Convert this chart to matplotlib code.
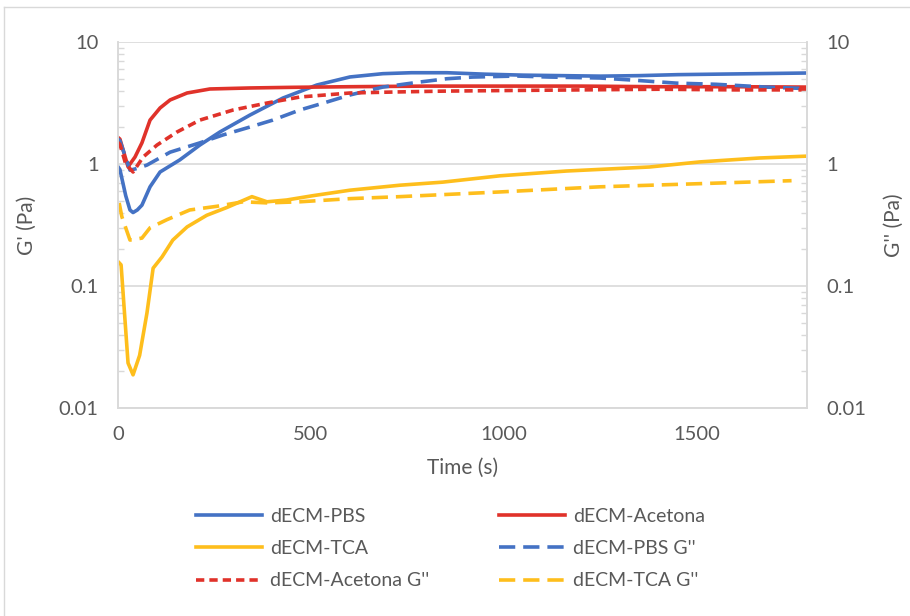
import matplotlib
matplotlib.use("Agg")
import matplotlib.pyplot as plt
from matplotlib.ticker import LogLocator, FuncFormatter, NullFormatter, FixedLocator
from matplotlib.lines import Line2D

plt.rcParams['font.family'] = ['Lato', 'DejaVu Sans']

# ---------------- data ----------------
pbs_t = [0, 5, 20, 31, 39, 50, 62, 83, 109, 160, 212, 264, 342, 427, 515, 601, 686, 760, 852,
         950, 1050, 1150, 1250, 1350, 1450, 1550, 1650, 1785]
pbs_g1 = [0.95, 0.9, 0.55, 0.42, 0.40, 0.42, 0.46, 0.65, 0.86, 1.08, 1.43, 1.83, 2.52, 3.47, 4.44,
          5.17, 5.5, 5.6, 5.6, 5.45, 5.35, 5.3, 5.25, 5.3, 5.4, 5.45, 5.5, 5.57]

ace_t = [0, 5, 26, 44, 62, 83, 109, 135, 179, 238, 342, 450, 600, 800, 1000, 1200, 1400, 1600, 1785]
ace_g1 = [1.65, 1.6, 0.95, 1.14, 1.49, 2.29, 2.88, 3.35, 3.82, 4.12, 4.2, 4.25, 4.3, 4.35, 4.35,
          4.35, 4.3, 4.3, 4.27]

tca_t = [3, 8, 26, 39, 56, 75, 91, 114, 142, 179, 230, 282, 347, 386, 437, 505, 601, 730, 841,
         989, 1162, 1377, 1507, 1662, 1785]
tca_g1 = [0.155, 0.149, 0.0234, 0.0187, 0.027, 0.06, 0.14, 0.173, 0.238, 0.305, 0.38, 0.44, 0.54,
          0.49, 0.507, 0.55, 0.61, 0.67, 0.71, 0.8, 0.876, 0.945, 1.04, 1.12, 1.16]

pbs2_t = [0, 5, 31, 50, 75, 135, 212, 272, 342, 401, 471, 541, 601, 686, 782, 852, 919, 1033,
          1118, 1248, 1334, 1447, 1550, 1680, 1785]
pbs_g2 = [1.6, 1.55, 0.89, 0.92, 0.98, 1.25, 1.49, 1.73, 2.01, 2.29, 2.77, 3.22, 3.68, 4.27, 4.7,
          5.0, 5.16, 5.26, 5.16, 5.07, 4.87, 4.6, 4.5, 4.27, 4.15]

ace2_t = [0, 5, 20, 39, 65, 101, 153, 212, 298, 386, 471, 601, 730, 852, 1000, 1200, 1400, 1600, 1785]
ace_g2 = [1.5, 1.45, 1.0, 0.86, 1.14, 1.43, 1.83, 2.29, 2.77, 3.16, 3.54, 3.82, 3.9, 3.96, 4.0,
          4.05, 4.1, 4.05, 4.05]

tca2_t = [3, 10, 31, 62, 83, 127, 186, 256, 324, 386, 471, 601, 730, 989, 1248, 1507, 1745]
tca_g2 = [0.48, 0.37, 0.238, 0.247, 0.3, 0.35, 0.42, 0.45, 0.49, 0.48, 0.49, 0.52, 0.54, 0.59,
          0.65, 0.69, 0.73]

x_ticks = [0, 500, 1000, 1500]
y_ticks = [0.01, 0.1, 1, 10]

# ---------------- style ----------------
BLUE = '#4472C4'
RED = '#E0322A'
YEL = '#FEBE1C'
GRID = '#D9D9D9'
TXT = '#595959'
LW = 2.6
LONG = (4.5, 2.2)
SHORT = (2.3, 1.4)

fig = plt.figure(figsize=(9.10, 6.16), dpi=100)
W, H = 910, 616
L, R, T, B = 118, 807, 42, 408
ax = fig.add_axes([L / W, 1 - B / H, (R - L) / W, (B - T) / H])

l1, = ax.plot(pbs_t, pbs_g1, color=BLUE, lw=LW, label='dECM-PBS')
l2, = ax.plot(ace_t, ace_g1, color=RED, lw=LW, label='dECM-Acetona')
l3, = ax.plot(tca_t, tca_g1, color=YEL, lw=LW, label='dECM-TCA')
l4, = ax.plot(pbs2_t, pbs_g2, color=BLUE, lw=LW, dashes=LONG, label="dECM-PBS G''")
l5, = ax.plot(ace2_t, ace_g2, color=RED, lw=LW, dashes=SHORT, label="dECM-Acetona G''")
l6, = ax.plot(tca2_t, tca_g2, color=YEL, lw=LW, dashes=LONG, label="dECM-TCA G''")

ax.set_yscale('log')
ax.set_ylim(0.01, 10)
ax.set_xlim(0, 1785)
ax.set_xticks(x_ticks)

fmt = FuncFormatter(lambda v, p: '{:g}'.format(v))
ax2 = ax.twinx()
ax2.set_yscale('log')
ax2.set_ylim(0.01, 10)
for a in (ax, ax2):
    a.yaxis.set_major_locator(FixedLocator(y_ticks))
    a.yaxis.set_major_formatter(fmt)
    a.yaxis.set_minor_locator(LogLocator(base=10, subs=range(2, 10)))
    a.yaxis.set_minor_formatter(NullFormatter())
    for s in a.spines.values():
        s.set_color(GRID)
        s.set_linewidth(1.2)
    a.tick_params(axis='y', which='major', length=0, pad=14, labelsize=14.5, labelcolor=TXT)
    a.tick_params(axis='y', which='minor', direction='in', length=4.5, width=1, color=GRID)
ax.spines['top'].set_visible(False)
ax2.spines['top'].set_visible(False)
ax.grid(True, which='major', axis='y', color=GRID, lw=1.2)
ax.set_axisbelow(True)
ax.tick_params(axis='x', length=0, pad=13, labelsize=14.5, labelcolor=TXT)

ax.set_xlabel('Time (s)', fontsize=15, color=TXT, va='center')
ax.xaxis.set_label_coords(0.5, -(468 - B) / (B - T))
ax.set_ylabel("G' (Pa)", fontsize=15, color=TXT, va='center', ha='center')
ax.yaxis.set_label_coords((27 - L) / (R - L), 0.5)
ax2.set_ylabel("G'' (Pa)", fontsize=15, color=TXT, va='center', ha='center', rotation=90)
ax2.yaxis.set_label_coords((894 - L) / (R - L), 0.5)

handles = [l1, l3, l5, l2, l4, l6]
leg = fig.legend(handles=handles, labels=[h.get_label() for h in handles], ncol=2,
                 loc='upper left', bbox_to_anchor=(196 / W, 1 - 508 / H),
                 frameon=False, fontsize=14, handlelength=3.4, handletextpad=0.4,
                 columnspacing=3.6, labelspacing=0.78, borderpad=0, borderaxespad=0)
for t in leg.get_texts():
    t.set_color(TXT)

# chart border (left and top only visible)
fig.add_artist(Line2D([4 / W, 4 / W], [0, 1 - 7 / H], transform=fig.transFigure, color=GRID, lw=1))
fig.add_artist(Line2D([4 / W, 1], [1 - 7 / H, 1 - 7 / H], transform=fig.transFigure, color=GRID, lw=1))

fig.savefig('out.png', dpi=100)
